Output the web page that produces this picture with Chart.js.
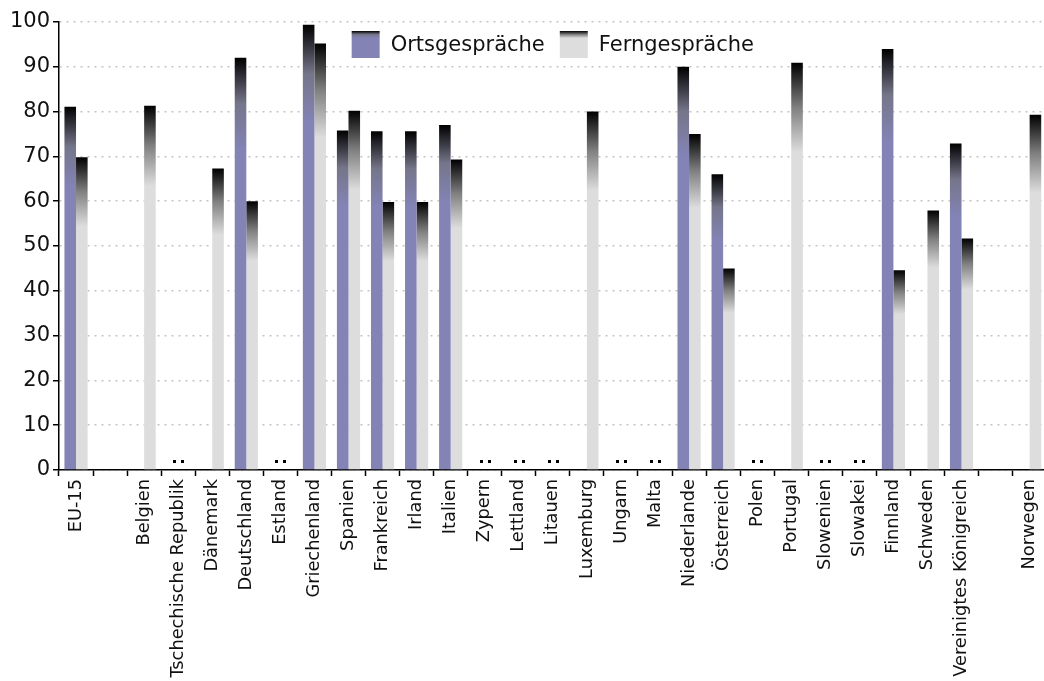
<!DOCTYPE html>
<html>
<head>
<meta charset="utf-8">
<script src="https://cdn.jsdelivr.net/npm/chart.js@4/dist/chart.umd.min.js"></script>
<style>
  html, body { margin: 0; padding: 0; background: #fff; overflow: hidden; }
  #wrap { width: 1054px; height: 681px; position: relative; }
</style>
</head>
<body>
<div id="wrap"><canvas id="c"></canvas></div>
<script>
// Kategorien (leere Strings = Abstand)
const countries = ['EU-15', '', 'Belgien', 'Tschechische Republik', 'Dänemark', 'Deutschland', 'Estland',
  'Griechenland', 'Spanien', 'Frankreich', 'Irland', 'Italien', 'Zypern', 'Lettland', 'Litauen',
  'Luxemburg', 'Ungarn', 'Malta', 'Niederlande', 'Österreich', 'Polen', 'Portugal', 'Slowenien',
  'Slowakei', 'Finnland', 'Schweden', 'Vereinigtes Königreich', '', 'Norwegen'];

const ortsgespraeche = [81.1, null, null, null, null, 92.0, null,
  99.4, 75.8, 75.6, 75.6, 77.0, null, null, null,
  null, null, null, 90.0, 66.0, null, null, null,
  null, 94.0, null, 72.9, null, null];

const ferngespraeche = [69.8, null, 81.3, null, 67.3, 60.0, null,
  95.2, 80.2, 59.8, 59.8, 69.3, null, null, null,
  80.0, null, null, 75.0, 45.0, null, 90.9, null,
  null, 44.6, 57.9, 51.7, null, 79.3];

// Länder ohne Daten (":")
const keineDaten = ['Tschechische Republik', 'Estland', 'Zypern', 'Lettland', 'Litauen',
  'Ungarn', 'Malta', 'Polen', 'Slowenien', 'Slowakei'];

const yTicks = [0, 10, 20, 30, 40, 50, 60, 70, 80, 90, 100];

const BLUE = '#8383b5';
const GREY = '#dddddd';
const FONT = 'DejaVu Sans';

// Verlauf: oben schwarz, dann Grundfarbe
function makeGradient(ctx, top, len, base, mid) {
  const g = ctx.createLinearGradient(0, top, 0, top + len);
  g.addColorStop(0, '#000000');
  g.addColorStop(0.5, mid);
  g.addColorStop(1, base);
  return g;
}

function barGradient(context, base, mid) {
  const chart = context.chart;
  const v = context.raw;
  if (!chart.chartArea || v == null) return base;
  const y = chart.scales.y;
  const top = y.getPixelForValue(v);
  const bottom = y.getPixelForValue(0);
  return makeGradient(chart.ctx, top, Math.max(1, (bottom - top) * 0.22), base, mid);
}

// ":" für fehlende Werte
const colonPlugin = {
  id: 'colons',
  afterDatasetsDraw(chart) {
    const { ctx, scales } = chart;
    const y0 = scales.y.getPixelForValue(0);
    ctx.save();
    ctx.fillStyle = '#000';
    keineDaten.forEach(name => {
      const i = countries.indexOf(name);
      const x = scales.x.getPixelForValue(i);
      ctx.fillRect(Math.round(x - 5), Math.round(y0 - 10), 3, 3);
      ctx.fillRect(Math.round(x + 3), Math.round(y0 - 10), 3, 3);
    });
    ctx.restore();
  }
};

// Legende oben im Diagramm, horizontal
const legendPlugin = {
  id: 'topLegend',
  afterDraw(chart) {
    const { ctx, chartArea } = chart;
    const items = [
      { text: chart.data.datasets[0].label, base: BLUE, mid: '#75758a' },
      { text: chart.data.datasets[1].label, base: GREY, mid: '#808080' }
    ];
    const box = 28, boxH = 27, gapBox = 11, gapItem = 15;
    ctx.save();
    ctx.font = '21px "' + FONT + '"';
    ctx.textBaseline = 'middle';
    const widths = items.map(it => ctx.measureText(it.text).width);
    const total = items.length * (box + gapBox) + widths.reduce((a, b) => a + b, 0) + gapItem;
    let x = (chartArea.left + chartArea.right) / 2 - total / 2;
    const top = chartArea.top + 9;
    items.forEach((it, i) => {
      ctx.fillStyle = makeGradient(ctx, top, 7, it.base, it.mid);
      ctx.fillRect(x, top, box, boxH);
      x += box + gapBox;
      ctx.fillStyle = '#111';
      ctx.fillText(it.text, x, top + boxH / 2 + 1);
      x += widths[i] + gapItem;
    });
    ctx.restore();
  }
};

const chart = new Chart(document.getElementById('c'), {
  type: 'bar',
  data: {
    labels: countries,
    datasets: [{
      label: 'Ortsgespräche',
      data: ortsgespraeche,
      backgroundColor: ctx => barGradient(ctx, BLUE, '#75758a'),
      categoryPercentage: 0.68,
      barPercentage: 1.0
    }, {
      label: 'Ferngespräche',
      data: ferngespraeche,
      backgroundColor: ctx => barGradient(ctx, GREY, '#808080'),
      categoryPercentage: 0.68,
      barPercentage: 1.0
    }]
  },
  options: {
    responsive: true,
    maintainAspectRatio: false,
    animation: false,
    layout: { padding: { top: 22, right: 0, left: 0, bottom: 0 } },
    plugins: {
      tooltip: { enabled: false },
      legend: { display: false }
    },
    scales: {
      x: {
        offset: true,
        grid: {
          offset: true,
          drawOnChartArea: false,
          tickLength: 6,
          tickColor: '#000',
          tickWidth: 1.5
        },
        border: { color: '#000', width: 1.5 },
        ticks: {
          autoSkip: false,
          maxRotation: 90,
          minRotation: 90,
          padding: 3,
          color: '#111',
          font: { family: FONT, size: 17.8 }
        },
        afterFit(scale) { scale.height = 211; }
      },
      y: {
        min: 0,
        max: 100,
        afterBuildTicks(scale) { scale.ticks = yTicks.map(v => ({ value: v })); },
        grid: {
          color: '#c4c4c4',
          lineWidth: 1.5,
          tickLength: 6,
          tickColor: '#000',
          tickWidth: 1.5,
          tickBorderDash: []
        },
        border: { color: '#000', width: 1.5, dash: [2, 5] },
        ticks: {
          padding: 3,
          color: '#111',
          font: { family: FONT, size: 21 }
        },
        afterFit(scale) { scale.width = 59; }
      }
    }
  },
  plugins: [colonPlugin, legendPlugin]
});
</script>
</body>
</html>
